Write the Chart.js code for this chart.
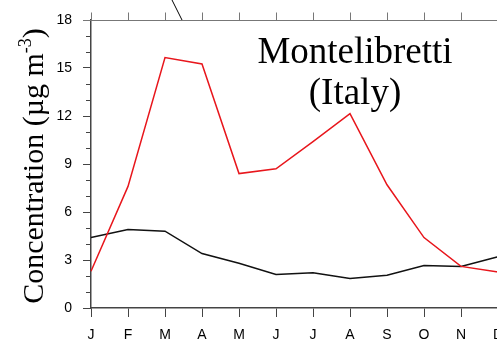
<!DOCTYPE html>
<html>
<head>
<meta charset="utf-8">
<script src="https://cdn.jsdelivr.net/npm/chart.js@4"></script>
<style>
  html, body { margin: 0; padding: 0; background: #fff; overflow: hidden; }
  #wrap { width: 540px; height: 341px; }
</style>
</head>
<body>
<div id="wrap"><canvas id="chart" width="540" height="341"></canvas></div>
<script>
// Monthly data
const months = ['J', 'F', 'M', 'A', 'M', 'J', 'J', 'A', 'S', 'O', 'N', 'D'];
const redSeries = [2.3, 7.6, 15.65, 15.25, 8.4, 8.7, 10.4, 12.15, 7.7, 4.4, 2.6, 2.25];
const blackSeries = [4.4, 4.9, 4.8, 3.4, 2.8, 2.1, 2.2, 1.85, 2.05, 2.65, 2.6, 3.2];
const yMin = 0;
const yMax = 18;
const yStep = 3;
const titleLines = ['Montelibretti', '(Italy)'];

const AXIS = '#444';
const TICK_FONT = { family: "'Liberation Sans', Arial, sans-serif", size: 14 };
const SERIF = "'Liberation Serif', 'Times New Roman', serif";

// Draws minor y ticks, the top frame with its ticks, the y title and the site label
const decorations = {
    id: 'decorations',
    afterDraw(chart) {
        const ctx = chart.ctx;
        const area = chart.chartArea;
        const x = chart.scales.x;
        const y = chart.scales.y;

        ctx.save();
        ctx.strokeStyle = AXIS;
        ctx.lineWidth = 1;

        // minor ticks on y
        ctx.beginPath();
        for (let v = yMin; v <= yMax; v++) {
            if (v % yStep === 0) continue;
            const py = Math.round(y.getPixelForValue(v)) + 0.5;
            ctx.moveTo(area.left - 5, py);
            ctx.lineTo(area.left, py);
        }
        ctx.stroke();

        // top frame + ticks
        ctx.strokeStyle = '#777';
        ctx.beginPath();
        const topY = Math.round(area.top) + 0.5;
        ctx.moveTo(area.left - 8, topY);
        ctx.lineTo(chart.width, topY);
        months.forEach((m, i) => {
            const px = Math.round(x.getPixelForValue(i)) + 0.5;
            ctx.moveTo(px, topY);
            ctx.lineTo(px, topY - 8);
        });
        ctx.stroke();

        // stray annotation stroke entering from above
        ctx.strokeStyle = '#000';
        ctx.beginPath();
        ctx.moveTo(area.left + 81, 0);
        ctx.lineTo(area.left + 91, area.top);
        ctx.stroke();

        // y axis title with superscript
        ctx.fillStyle = '#000';
        ctx.translate(34, 166);
        ctx.rotate(-Math.PI / 2);
        ctx.textBaseline = 'alphabetic';
        const main = 'Concentration (\u00b5g m';
        const sup = '-3';
        const tail = ')';
        ctx.font = '30px ' + SERIF;
        const wMain = ctx.measureText(main).width;
        const wTail = ctx.measureText(tail).width;
        ctx.font = '18px ' + SERIF;
        const wSup = ctx.measureText(sup).width;
        let sx = -(wMain + wSup + wTail) / 2;
        ctx.font = '30px ' + SERIF;
        ctx.fillText(main, sx, 9);
        sx += wMain;
        ctx.font = '18px ' + SERIF;
        ctx.fillText(sup, sx, -3);
        sx += wSup;
        ctx.font = '30px ' + SERIF;
        ctx.fillText(tail, sx, 9);
        ctx.restore();

        // site label
        ctx.save();
        ctx.fillStyle = '#000';
        ctx.font = '37px ' + SERIF;
        ctx.textAlign = 'center';
        ctx.textBaseline = 'alphabetic';
        ctx.fillText(titleLines[0], 355, 63);
        ctx.fillText(titleLines[1], 355, 104);
        ctx.restore();
    }
};

const ctx = document.getElementById('chart').getContext('2d');
new Chart(ctx, {
    type: 'line',
    data: {
        labels: months,
        datasets: [
            {
                label: 'red',
                data: redSeries,
                borderColor: '#e8161c',
                borderWidth: 1.5,
                pointRadius: 0,
                tension: 0,
                fill: false
            },
            {
                label: 'black',
                data: blackSeries,
                borderColor: '#111',
                borderWidth: 1.5,
                pointRadius: 0,
                tension: 0,
                fill: false
            }
        ]
    },
    options: {
        responsive: false,
        animation: false,
        layout: { padding: { top: 20, right: 42, left: 0, bottom: 0 } },
        plugins: {
            legend: { display: false },
            tooltip: { enabled: false }
        },
        scales: {
            x: {
                offset: false,
                grid: {
                    drawOnChartArea: false,
                    drawTicks: true,
                    tickLength: 9,
                    color: AXIS
                },
                border: { color: AXIS, width: 1.5 },
                ticks: {
                    color: '#000',
                    font: TICK_FONT,
                    padding: 10,
                    maxRotation: 0,
                    autoSkip: false
                },
                afterFit(scale) { scale.height = 33; }
            },
            y: {
                min: yMin,
                max: yMax,
                grid: {
                    drawOnChartArea: false,
                    tickLength: 8,
                    color: AXIS
                },
                border: { color: AXIS, width: 1.5 },
                ticks: {
                    stepSize: yStep,
                    color: '#000',
                    font: TICK_FONT,
                    padding: 11
                },
                afterFit(scale) { scale.width = 91; }
            }
        }
    },
    plugins: [decorations]
});
</script>
</body>
</html>
